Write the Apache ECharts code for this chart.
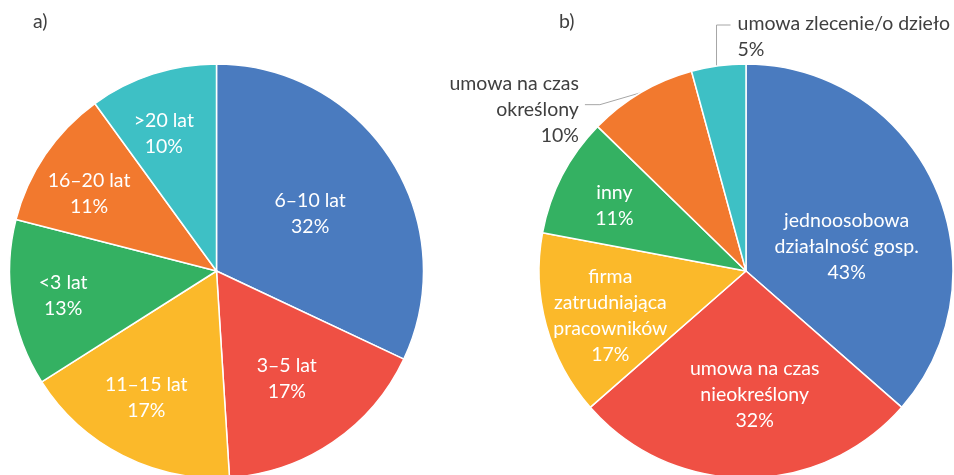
<!DOCTYPE html>
<html>
<head>
<meta charset="utf-8">
<script src="https://cdn.jsdelivr.net/npm/echarts@6/dist/echarts.min.js"></script>
<style>
    html, body {margin: 0; padding: 0; background: #fff;}
    #container {width: 954px; height: 475px;}
</style>
</head>
<body>
<div id="container"></div>
<script>
// a) staż pracy
var namesA = ['6–10 lat', '3–5 lat', '11–15 lat', '<3 lat', '16–20 lat', '>20 lat'];
var valuesA = [32, 17, 17, 13, 11, 10];

// b) forma zatrudnienia (odsetki nie sumują się do 100)
var namesB = ['jednoosobowa\ndziałalność gosp.', 'umowa na czas\nnieokreślony', 'firma\nzatrudniająca\npracowników',
    'inny', 'umowa na czas\nokreślony', 'umowa zlecenie/o dzieło'];
var valuesB = [43, 32, 17, 11, 10, 5];

var colors = ['#4a7bbf', '#ef5044', '#fbb92a', '#34b162', '#f2792e', '#3ec0c5'];

var FONT = 'Lato, "Noto Sans", sans-serif';
var FSIZE = 19.5;
var R = 207;
var centerA = [216.5, 271];
var centerB = [746, 271];

// odległość etykiet od środka (ułamek promienia) i przesunięcie kąta
var distA = [0.53, 0.62, 0.70, 0.75, 0.72, 0.71];
var shiftA = [1, 1, 2, 0, -3, -3];
var distB = [0.50, 0.60, 0.69, 0.71, 1, 1];
var shiftB = [11, -4, -3, -1, 0, 0];
var outsideB = [4, 5];

var midAngle = function (values, i) {
    var total = 0, before = 0;
    for (var k = 0; k < values.length; k++) {
        total += values[k];
        if (k < i) before += values[k];
    }
    return (before + values[i] / 2) / total * 2 * Math.PI;
};

var polar = function (c, d, a) {
    return [c[0] + d * R * Math.sin(a), c[1] - d * R * Math.cos(a)];
};

var layoutA = function (p) {
    var i = p.dataIndex;
    var pt = polar(centerA, distA[i], midAngle(valuesA, i) + shiftA[i] * Math.PI / 180);
    return {x: pt[0], y: pt[1]};
};

var layoutB = function (p) {
    var i = p.dataIndex;
    var pt = polar(centerB, distB[i], midAngle(valuesB, i) + shiftB[i] * Math.PI / 180);
    if (i === 4) {
        return {
            x: pt[0] - 62, y: pt[1] + 17, align: 'right', verticalAlign: 'middle',
            labelLinePoints: [pt, [pt[0] - 41, pt[1] + 12], [pt[0] - 56, pt[1] + 12]]
        };
    }
    if (i === 5) {
        return {
            x: pt[0] + 19, y: pt[1] - 29, align: 'left', verticalAlign: 'middle',
            labelLinePoints: [[pt[0] - 2, pt[1]], [pt[0] - 2, 25], [pt[0] + 12, 25]]
        };
    }
    return {x: pt[0], y: pt[1]};
};

var buildData = function (names, values, outside) {
    var data = [];
    for (var i = 0; i < values.length; i++) {
        var item = {name: names[i], value: values[i], itemStyle: {color: colors[i]}};
        if (outside.indexOf(i) >= 0) {
            item.label = {position: 'outside', color: '#404040'};
            item.labelLine = {show: true};
        }
        data.push(item);
    }
    return data;
};

var pieBase = function (center, data, layout) {
    return {
        type: 'pie',
        center: center,
        radius: R,
        startAngle: 90,
        clockwise: true,
        avoidLabelOverlap: false,
        silent: true,
        itemStyle: {borderColor: '#fff', borderWidth: 1.5},
        label: {
            show: true,
            position: 'inside',
            formatter: '{b}\n{c}%',
            color: '#fff',
            fontFamily: FONT,
            fontSize: FSIZE,
            lineHeight: 26,
            textBorderWidth: 0,
            align: 'center'
        },
        labelLine: {show: false, lineStyle: {color: '#a6a6a6', width: 1}},
        labelLayout: layout,
        emphasis: {disabled: true},
        data: data
    };
};

var myChart = echarts.init(document.getElementById('container'));
var option = {
    animation: false,
    title: [
        {text: 'a)', left: 33, top: 12, padding: 0,
            textStyle: {color: '#404040', fontFamily: FONT, fontSize: FSIZE, fontWeight: 'normal'}},
        {text: 'b)', left: 559, top: 12, padding: 0,
            textStyle: {color: '#404040', fontFamily: FONT, fontSize: FSIZE, fontWeight: 'normal'}}
    ],
    series: [
        pieBase(centerA, buildData(namesA, valuesA, []), layoutA),
        pieBase(centerB, buildData(namesB, valuesB, outsideB), layoutB)
    ]
};
myChart.setOption(option);
</script>
</body>
</html>
